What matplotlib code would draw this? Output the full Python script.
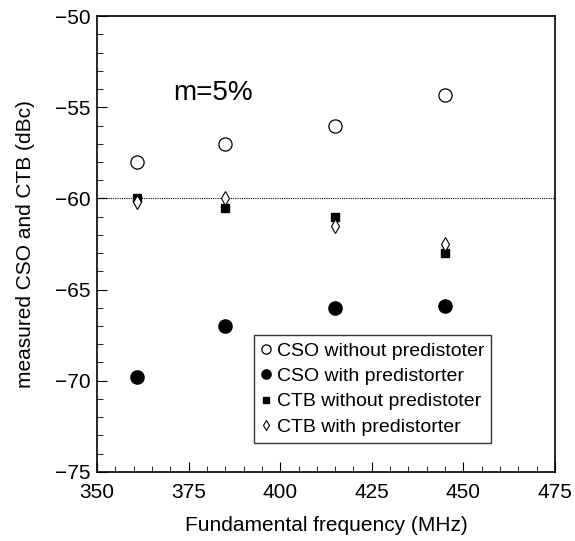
import matplotlib
matplotlib.use('Agg')
import matplotlib.pyplot as plt
from matplotlib.ticker import MultipleLocator

plt.rcParams['font.family'] = ['Liberation Sans', 'DejaVu Sans']

freq = [361, 385, 415, 445]
cso_without = [-58.0, -57.0, -56.0, -54.3]
cso_with = [-69.8, -67.0, -66.0, -65.9]
ctb_without = [-60.0, -60.5, -61.0, -63.0]
ctb_with = [-60.2, -60.0, -61.5, -62.5]

fig = plt.figure(figsize=(5.75, 5.41), dpi=100)
ax = fig.add_axes([0.169, 0.128, 0.796, 0.842])

ax.axhline(-60, color='black', lw=0.8, ls=(0, (1, 1)))

ax.plot(freq, cso_without, 'o', ms=9.5, mfc='white', mec='black', mew=0.9,
        ls='none', label='CSO without predistoter')
ax.plot(freq, cso_with, 'o', ms=9.5, mfc='black', mec='black',
        ls='none', label='CSO with predistorter')
ax.plot(freq, ctb_without, 's', ms=6, mfc='black', mec='black',
        ls='none', label='CTB without predistoter')
ax.plot(freq, ctb_with, 'd', ms=7, mfc='white', mec='black', mew=0.8,
        ls='none', label='CTB with predistorter')

ax.text(370.7, -54.6, 'm=5%', fontsize=20, va='baseline')

ax.set_xlim(350, 475)
ax.set_ylim(-75, -50)
ax.xaxis.set_major_locator(MultipleLocator(25))
ax.xaxis.set_minor_locator(MultipleLocator(5))
ax.yaxis.set_major_locator(MultipleLocator(5))
ax.yaxis.set_minor_locator(MultipleLocator(1))
ax.tick_params(which='both', direction='in', labelsize=15)
ax.tick_params(which='major', length=7)
ax.tick_params(which='minor', length=4)
ax.tick_params(axis='x', pad=8)
ax.tick_params(axis='y', pad=5)
for s in ax.spines.values():
    s.set_linewidth(1.2)

ax.set_xlabel('Fundamental frequency (MHz)', fontsize=15, labelpad=10)
ax.set_ylabel('measured CSO and CTB (dBc)', fontsize=15, labelpad=14)

leg = ax.legend(loc='lower left', bbox_to_anchor=(0.343, 0.064), fontsize=14,
                frameon=True, fancybox=False, edgecolor='black',
                markerscale=0.7, handlelength=0.5, handletextpad=0.3,
                borderpad=0.35, labelspacing=0.4, borderaxespad=0)
leg.get_frame().set_linewidth(1.0)

fig.savefig('out.png', dpi=100)
